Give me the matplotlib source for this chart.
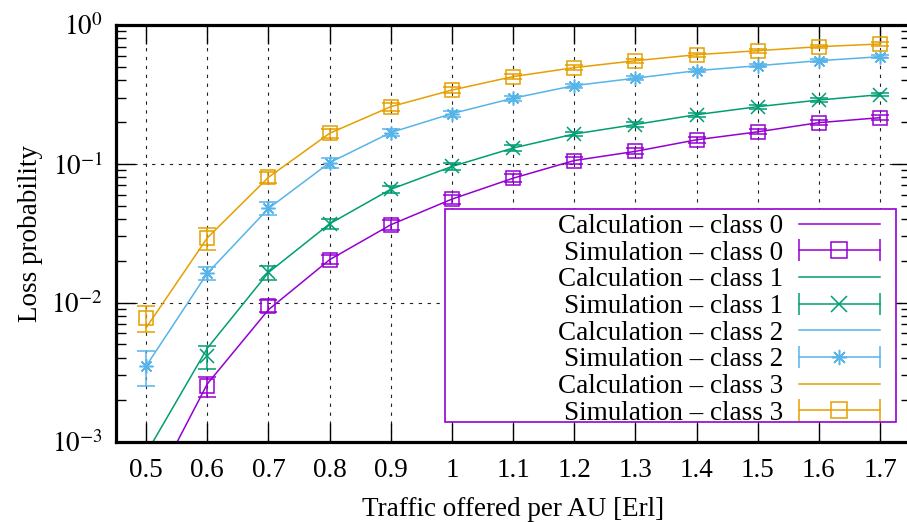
import numpy as np
import matplotlib
matplotlib.use("Agg")
import matplotlib.pyplot as plt
from matplotlib.lines import Line2D
from matplotlib.patches import Rectangle
from matplotlib.legend_handler import HandlerBase

plt.rcParams['font.family'] = ['Liberation Serif', 'DejaVu Serif']
plt.rcParams['mathtext.fontset'] = 'stix'

# Datos
load = [0.5, 0.6, 0.7, 0.8, 0.9, 1.0, 1.1, 1.2, 1.3, 1.4, 1.5, 1.6, 1.7]

calc_c0 = [0.00037, 0.0026, 0.0089, 0.0204, 0.0364, 0.0557, 0.0788, 0.1056, 0.123, 0.149, 0.170, 0.198, 0.215]
calc_c1 = [0.00082, 0.0047, 0.0165, 0.037, 0.0656, 0.0957, 0.130, 0.164, 0.192, 0.226, 0.258, 0.288, 0.315]
calc_c2 = [0.0035, 0.0163, 0.0477, 0.102, 0.168, 0.230, 0.297, 0.366, 0.414, 0.469, 0.509, 0.553, 0.591]
calc_c3 = [0.0066, 0.0293, 0.080, 0.166, 0.258, 0.340, 0.425, 0.493, 0.553, 0.611, 0.653, 0.698, 0.730]

sim_c0 = [0.00035, 0.0025, 0.0095, 0.0204, 0.0364, 0.0557, 0.0788, 0.1056, 0.123, 0.149, 0.170, 0.198, 0.215]
sim_c1 = [0.0008, 0.0041, 0.0165, 0.037, 0.0656, 0.0957, 0.130, 0.164, 0.192, 0.226, 0.258, 0.288, 0.315]
sim_c2 = [0.0035, 0.0163, 0.0477, 0.102, 0.168, 0.230, 0.297, 0.366, 0.414, 0.469, 0.509, 0.553, 0.591]
sim_c3 = [0.0078, 0.0293, 0.080, 0.166, 0.258, 0.340, 0.425, 0.493, 0.553, 0.611, 0.653, 0.698, 0.730]

err_c0 = [0.0001, 0.0004, 0.001, 0.0015, 0.003, 0.004, 0.005, 0.006, 0.006, 0.007, 0.007, 0.008, 0.008]
err_c1 = [0.00015, 0.00075, 0.002, 0.003, 0.004, 0.005, 0.006, 0.006, 0.007, 0.007, 0.008, 0.008, 0.008]
err_c2 = [0.001, 0.0018, 0.005, 0.008, 0.01, 0.011, 0.012, 0.012, 0.013, 0.013, 0.013, 0.014, 0.014]
err_c3 = [0.0017, 0.0054, 0.0078, 0.012, 0.017, 0.018, 0.02, 0.02, 0.02, 0.02, 0.02, 0.02, 0.02]

colores = ['#9400D3', '#009E73', '#56B4E9', '#E69F00']
marcas = ['s', 'x', (8, 2, 0), 's']
calc = [calc_c0, calc_c1, calc_c2, calc_c3]
sim = [sim_c0, sim_c1, sim_c2, sim_c3]
err = [err_c0, err_c1, err_c2, err_c3]

FS = 19.5


class HandlerGnuErr(HandlerBase):
    # barra de error horizontal al estilo gnuplot en la leyenda
    def create_artists(self, legend, orig, xdescent, ydescent, width, height, fontsize, trans):
        y = height / 2 - ydescent
        x0, x1 = -xdescent, -xdescent + width
        c = orig.get_color()
        a1 = Line2D([x0, x1], [y, y], color=c, lw=1.1)
        a2 = Line2D([x0, x1], [y, y], color=c, ls='none', marker='|', markersize=16, mew=1.1)
        a3 = Line2D([(x0 + x1) / 2], [y], color=c, ls='none', marker=orig.get_marker(),
                    markersize=11, mfc='none', mew=1.1)
        for a in (a1, a2, a3):
            a.set_transform(trans)
        return [a1, a2, a3]


fig = plt.figure(figsize=(9.07, 5.22), dpi=100)
ax = fig.add_axes([115.6 / 907, 1 - 441.5 / 522, 795 / 907, 416.5 / 522])

handles = []
labels = []
for i in range(4):
    ax.plot(load, calc[i], color=colores[i], lw=1.1, zorder=2)
    ax.errorbar(load, sim[i], yerr=err[i], color=colores[i], marker=marcas[i], ls='none',
                markersize=10, mfc='none', mew=1.1, elinewidth=1.1, capsize=6.5, capthick=1.1,
                zorder=3)
    handles.append(Line2D([], [], color=colores[i], lw=1.1))
    labels.append("Calculation \u2013 class %d" % i)
    handles.append(Line2D([], [], color=colores[i], marker=marcas[i]))
    labels.append("Simulation \u2013 class %d" % i)

ax.set_yscale('log')
ax.set_xlim(0.45, 1.75)
ax.set_ylim(1e-3, 1)
ax.set_xticks(load)
ax.set_xticklabels(['0.5', '0.6', '0.7', '0.8', '0.9', '1', '1.1', '1.2', '1.3', '1.4', '1.5', '1.6', '1.7'])
ax.set_yticks([1e-3, 1e-2, 1e-1, 1])
ax.set_yticklabels([r'$10^{-3}$', r'$10^{-2}$', r'$10^{-1}$', r'$10^{0}$'])
ax.tick_params(which='major', direction='in', length=14, width=1.0, labelsize=FS,
               top=True, right=True)
ax.tick_params(axis='x', which='major', pad=12)
ax.tick_params(axis='y', which='major', pad=9)
ax.tick_params(which='minor', direction='in', length=7, width=1.0, top=True, right=True)
ax.tick_params(axis='x', which='minor', top=False, bottom=False)
ax.grid(True, which='major', color='#222222', lw=0.8, ls=(0, (3, 5)))
for s in ax.spines.values():
    s.set_linewidth(2.3)

ax.set_xlabel("Traffic offered per AU [Erl]", fontsize=FS, labelpad=10)
ax.set_ylabel("Loss probability", fontsize=FS, labelpad=6)

# caja de la leyenda
caja = Rectangle((445 / 907, 1 - 422 / 522), 451 / 907, 213 / 522, transform=fig.transFigure,
                 facecolor='white', edgecolor='#9400D3', lw=1.2, zorder=4)
ax.add_artist(caja)
caja.set_clip_on(False)

hm = {h: HandlerGnuErr() for h in handles[1::2]}
leg = ax.legend(handles, labels, handler_map=hm, loc='upper right',
                bbox_to_anchor=(896 / 907, 1 - 198 / 522), bbox_transform=fig.transFigure,
                frameon=False, markerfirst=False, fontsize=FS, handlelength=3.0,
                handletextpad=0.55, labelspacing=0.06, borderpad=0.1)
leg.set_zorder(5)

fig.savefig("out.png", dpi=100)
